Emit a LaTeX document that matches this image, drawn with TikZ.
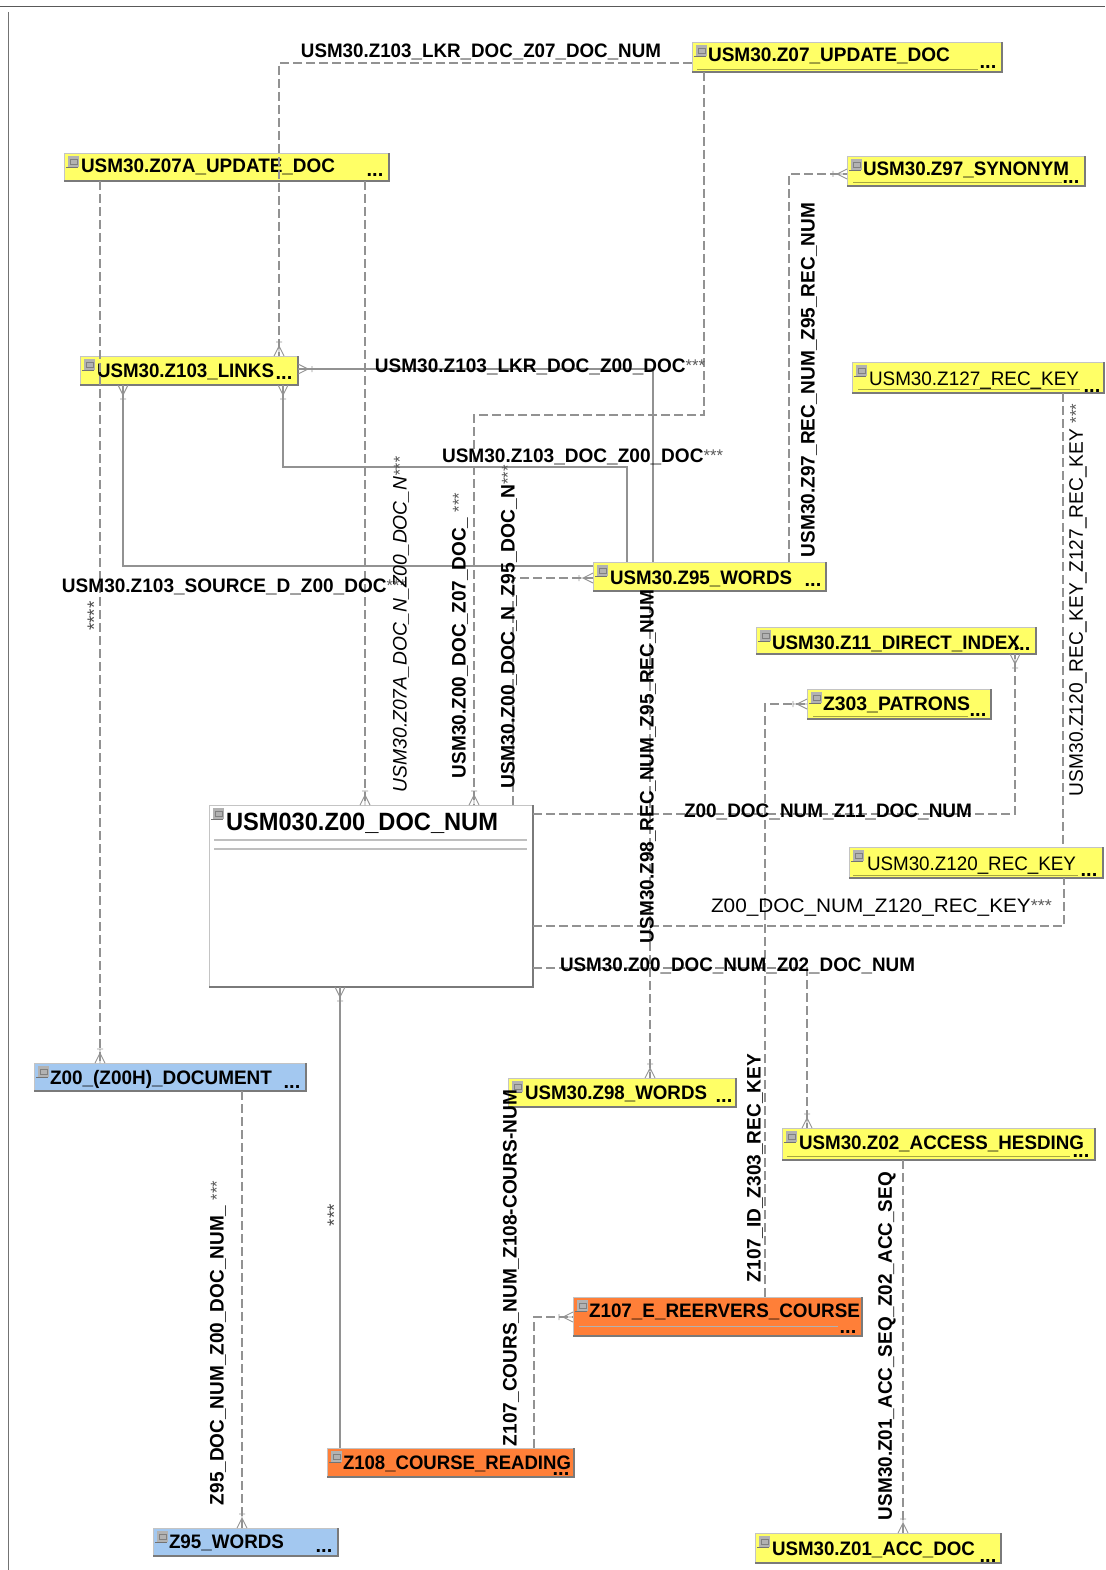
\documentclass[tikz,border=0pt]{standalone}
\usepackage{fontspec}
\usepackage{graphicx}
\setmainfont{Liberation Sans}
\definecolor{entyellow}{HTML}{FFFF66}
\definecolor{entblue}{HTML}{A3C8F0}
\definecolor{entorange}{HTML}{FF7F38}
\definecolor{entwhite}{HTML}{FFFFFF}
\definecolor{wire}{HTML}{929292}
\definecolor{edgelight}{HTML}{C4C4C4}
\definecolor{edgedark}{HTML}{7A7A7A}
\tikzset{
  entbox/.style={rectangle,draw=edgelight,line width=0.8pt,anchor=north west,inner ysep=0pt,outer sep=0pt,
    font=\fontsize{19.5}{21}\selectfont\bfseries,text=black},
  dsh/.style={draw=wire,line width=1.05pt,dash pattern=on 9pt off 4pt},
  sld/.style={draw=wire,line width=1.05pt},
  lab/.style={inner sep=0pt,outer sep=0pt,font=\fontsize{19.5}{21}\selectfont\bfseries,text=black},
  labreg/.style={inner sep=0pt,outer sep=0pt,font=\fontsize{19.5}{21}\selectfont,text=black},
  dotmark/.style={inner sep=0pt,outer sep=0pt,anchor=base,font=\fontsize{20}{21}\selectfont\bfseries,text=black},
  crowfoot/.pic={\draw[draw=wire,line width=0.9pt] (-5pt,0pt)--(0pt,10pt)--(5pt,0pt) (0pt,0pt)--(0pt,14pt) (-3pt,14pt)--(3pt,14pt);}
}
\newcommand{\TT}[3]{\raisebox{\dimexpr #1pt-1.5pt\relax}[0pt][0pt]{\resizebox{#2pt}{\height}{#3}}}
\newcommand{\Stars}{\raisebox{1pt}{\fontsize{17}{17}\selectfont\mdseries\textcolor{black!65}{***}}}
\newcommand{\EntBox}[8]{%
  \pgfmathsetmacro\bw{#4-#2}\pgfmathsetmacro\bh{#5-#3}\pgfmathsetmacro\boff{#7-#2}\pgfmathsetmacro\iw{\bw-2*\boff}%
  \node[entbox,fill=#6,minimum width=\bw pt,minimum height=\bh pt,inner xsep=\boff pt] (#1) at (#2,#3) {\makebox[\iw pt][l]{#8}};
  \draw[edgedark,line width=1.5pt] (#1.south west)--(#1.south east)--(#1.north east);
  \fill[black!55] ([xshift=2pt,yshift=-15pt]#1.north west) rectangle ([xshift=14pt,yshift=-14pt]#1.north west);
  \fill[black!30] ([xshift=4pt,yshift=-3pt]#1.north west) rectangle ([xshift=15pt,yshift=-14pt]#1.north west);
  \draw[black!50,line width=0.4pt] ([xshift=6pt,yshift=-6pt]#1.north west) rectangle ([xshift=13pt,yshift=-11pt]#1.north west);
}
\newcommand{\Lab}[6]{\node[lab,rotate=#4] (#1) at (#2,#3) {\resizebox{#5pt}{\height}{#6}};}
\newcommand{\LabR}[6]{\node[labreg,rotate=#4] (#1) at (#2,#3) {\resizebox{#5pt}{\height}{#6}};}
\newcommand{\DotsAt}[3]{\node[dotmark,yshift=-1.5pt] (#1) at (#2,#3) {...};}
\begin{document}
\begin{tikzpicture}[x=1pt,y=-1pt]
\useasboundingbox (0,0) rectangle (1105,1570);
\draw[black!65,line width=1pt] (0,7)--(1105,7);
\draw[black!55,line width=1pt] (8,12)--(8,1570);

% entities
\EntBox{zseven}{692}{42}{1002}{72}{entyellow}{708}{\TT{-3.5}{242}{USM30.Z07\_UPDATE\_DOC}}
\EntBox{zsevena}{64}{153}{389}{181}{entyellow}{81}{\TT{-4.5}{254}{USM30.Z07A\_UPDATE\_DOC}}
\EntBox{zninety}{847}{156}{1085}{186}{entyellow}{863}{\TT{-3.5}{206}{USM30.Z97\_SYNONYM}}
\EntBox{zlinks}{80}{356}{298}{385}{entyellow}{97}{\TT{-5}{177}{USM30.Z103\_LINKS}}
\EntBox{zonetwoseven}{852}{362}{1104}{393}{entyellow}{869}{\TT{-6}{210}{\mdseries USM30.Z127\_REC\_KEY}}
\EntBox{zwords}{593}{562}{826}{591}{entyellow}{610}{\TT{-6}{182}{USM30.Z95\_WORDS}}
\EntBox{zdirect}{756}{627}{1036}{654}{entyellow}{772}{\TT{-7}{248}{USM30.Z11\_DIRECT\_INDEX}}
\EntBox{zpatrons}{807}{689}{991}{719}{entyellow}{823}{\TT{-4.5}{147}{Z303\_PATRONS}}
\EntBox{zdoc}{209}{805}{533}{987}{entwhite}{226}{\TT{67}{272}{\fontsize{25}{27}\selectfont USM030.Z00\_DOC\_NUM}}
\EntBox{zonetwenty}{849}{847}{1103}{878}{entyellow}{867}{\TT{-6}{209}{\mdseries USM30.Z120\_REC\_KEY}}
\EntBox{zh}{34}{1063}{306}{1091}{entblue}{50}{\TT{-5.5}{222}{Z00\_(Z00H)\_DOCUMENT}}
\EntBox{zwordsb}{508}{1078}{736}{1107}{entyellow}{525}{\TT{-5}{182}{USM30.Z98\_WORDS}}
\EntBox{zaccess}{782}{1128}{1095}{1160}{entyellow}{799}{\TT{-3.5}{285}{USM30.Z02\_ACCESS\_HESDING}}
\EntBox{zcourse}{573}{1297}{862}{1336}{entorange}{589}{\TT{1}{271}{Z107\_E\_REERVERS\_COURSE}}
\EntBox{zreading}{327}{1448}{574}{1477}{entorange}{343}{\TT{-5}{228}{Z108\_COURSE\_READING}}
\EntBox{zblue}{153}{1528}{338}{1556}{entblue}{169}{\TT{-4.5}{115}{Z95\_WORDS}}
\EntBox{zacc}{755}{1533}{1001}{1563}{entyellow}{772}{\TT{-5.5}{203}{USM30.Z01\_ACC\_DOC}}

% inner rules
\draw[black!25,line width=1.2pt] (214,840)--(527,840) (214,849)--(527,849);
\draw[black!35!entyellow,line width=0.8pt] (697,69)--(978,69) (853,182)--(1062,182) (858,389)--(1080,389) (813,716)--(968,716) (853,875)--(1078,875) (787,1156)--(1070,1156);
\draw[black!30,line width=1pt] (579,1326)--(838,1326);

% connectors
\coordinate (bendA) at (474,415);
\coordinate (bendB) at (627,467);
\draw[dsh] ([yshift=-21pt]zseven.north west) -| ([xshift=199pt]zlinks.north west);
\draw[dsh] ([xshift=12pt]zseven.south west) |- (bendA) -- ([xshift=265pt]zdoc.north west);
\draw[dsh] ([xshift=36pt]zsevena.south west) -- ([xshift=66pt]zh.north west);
\draw[dsh] ([xshift=301pt]zsevena.south west) -- ([xshift=156pt]zdoc.north west);
\draw[sld] ([yshift=-13pt]zlinks.north east) -| ([xshift=60pt]zwords.north west);
\draw[sld] ([xshift=203pt]zlinks.south west) |- (bendB) -- ([xshift=34pt]zwords.north west);
\draw[sld] ([xshift=43pt]zlinks.south west) |- ([yshift=-4pt]zwords.north west);
\draw[dsh] ([xshift=304pt]zdoc.north west) |- ([yshift=-16pt]zwords.north west);
\draw[dsh] ([xshift=196pt]zwords.north west) |- ([yshift=-18pt]zninety.north west);
\draw[dsh] ([xshift=57pt]zwords.south west) -- ([xshift=142pt]zwordsb.north west);
\draw[dsh] ([yshift=-9pt]zdoc.north east) -| ([xshift=259pt]zdirect.south west);
\draw[dsh] ([yshift=-121pt]zdoc.north east) -| ([xshift=215pt]zonetwenty.south west);
\draw[dsh] ([xshift=211pt]zonetwoseven.south west) -- ([xshift=214pt]zonetwenty.north west);
\draw[dsh] ([yshift=-163pt]zdoc.north east) -| ([xshift=25pt]zaccess.north west);
\draw[dsh] ([xshift=192pt]zcourse.north west) |- ([yshift=-15pt]zpatrons.north west);
\draw[sld] ([xshift=131pt]zdoc.south west) -- ([xshift=13pt]zreading.north west);
\draw[dsh] ([xshift=208pt]zh.south west) -- ([xshift=89pt]zblue.north west);
\draw[dsh] ([xshift=207pt]zreading.north west) |- ([yshift=-20pt]zcourse.north west);
\draw[dsh] ([xshift=121pt]zaccess.south west) -- ([xshift=148pt]zacc.north west);

% crow feet
\pic at ([xshift=199pt]zlinks.north west) {crowfoot};
\pic[rotate=-90] at ([yshift=-13pt]zlinks.north east) {crowfoot};
\pic[rotate=180] at ([xshift=43pt]zlinks.south west) {crowfoot};
\pic[rotate=180] at ([xshift=203pt]zlinks.south west) {crowfoot};
\pic at ([xshift=156pt]zdoc.north west) {crowfoot};
\pic at ([xshift=265pt]zdoc.north west) {crowfoot};
\pic[rotate=180] at ([xshift=131pt]zdoc.south west) {crowfoot};
\pic[rotate=90] at ([yshift=-16pt]zwords.north west) {crowfoot};
\pic[rotate=90] at ([yshift=-18pt]zninety.north west) {crowfoot};
\pic[rotate=90] at ([yshift=-15pt]zpatrons.north west) {crowfoot};
\pic[rotate=90] at ([yshift=-20pt]zcourse.north west) {crowfoot};
\pic at ([xshift=66pt]zh.north west) {crowfoot};
\pic at ([xshift=142pt]zwordsb.north west) {crowfoot};
\pic at ([xshift=25pt]zaccess.north west) {crowfoot};
\pic at ([xshift=89pt]zblue.north west) {crowfoot};
\pic at ([xshift=148pt]zacc.north west) {crowfoot};
\pic[rotate=180] at ([xshift=259pt]zdirect.south west) {crowfoot};

% ellipsis marks
\DotsAt{dzseven}{988}{67}
\DotsAt{dzsevena}{375}{175}
\DotsAt{dzninety}{1071}{182}
\DotsAt{dzlinks}{284}{378}
\DotsAt{dzoneseven}{1092}{391}
\DotsAt{dzwords}{813}{585}
\DotsAt{dzdirect}{1022}{649}
\DotsAt{dzpatrons}{978}{715}
\DotsAt{dzonetwenty}{1089}{875}
\DotsAt{dzh}{292}{1087}
\DotsAt{dzwordsb}{724}{1101}
\DotsAt{dzaccess}{1081}{1156}
\DotsAt{dzcourse}{848}{1332}
\DotsAt{dzreading}{561}{1474}
\DotsAt{dzblue}{324}{1551}
\DotsAt{dzacc}{988}{1561}

% horizontal labels
\Lab{la}{481}{51.5}{0}{360}{USM30.Z103\_LKR\_DOC\_Z07\_DOC\_NUM}
\Lab{lb}{540}{366.5}{0}{330}{USM30.Z103\_LKR\_DOC\_Z00\_DOC\Stars}
\Lab{lc}{582.5}{456.5}{0}{281}{USM30.Z103\_DOC\_Z00\_DOC\Stars}
\Lab{ld}{234}{586.5}{0}{344}{USM30.Z103\_SOURCE\_D\_Z00\_DOC\Stars}
\Lab{le}{828}{811.5}{0}{288}{Z00\_DOC\_NUM\_Z11\_DOC\_NUM}
\LabR{lf}{881.5}{908}{0}{341}{Z00\_DOC\_NUM\_Z120\_REC\_KEY\Stars}
\Lab{lg}{737.5}{966}{0}{355}{USM30.Z00\_DOC\_NUM\_Z02\_DOC\_NUM}

% vertical labels
\node[labreg,rotate=90,text=black!70] (lh) at (94,616) {\fontsize{19}{19}\selectfont ****};
\LabR{li}{401}{624.5}{90}{335}{\itshape USM30.Z07A\_DOC\_N\_Z00\_DOC\_N\Stars}
\Lab{lj}{460}{635.5}{90}{285}{USM30.Z00\_DOC\_Z07\_DOC\_ \Stars}
\Lab{lk}{509}{626.5}{90}{323}{USM30.Z00\_DOC\_N\_Z95\_DOC\_N\Stars}
\Lab{ll}{648}{766.5}{90}{353}{USM30.Z98\_REC\_NUM\_Z95\_REC\_NUM}
\Lab{lm}{809}{380}{90}{354}{USM30.Z97\_REC\_NUM\_Z95\_REC\_NUM}
\LabR{ln}{1078}{600}{90}{392}{USM30.Z120\_REC\_KEY\_Z127\_REC\_KEY \Stars}
\Lab{lo}{755}{1168}{90}{228}{Z107\_ID\_Z303\_REC\_KEY}
\Lab{lp}{887}{1346}{90}{348}{USM30.Z01\_ACC\_SEQ\_Z02\_ACC\_SEQ}
\Lab{lq}{511}{1268}{90}{356}{Z107\_COURS\_NUM\_Z108-COURS-NUM}
\Lab{lr}{218}{1343}{90}{324}{Z95\_DOC\_NUM\_Z00\_DOC\_NUM\_ \Stars}
\node[labreg,rotate=90,text=black!70] (ls) at (334,1215) {\fontsize{19}{19}\selectfont ***};
\end{tikzpicture}
\end{document}
